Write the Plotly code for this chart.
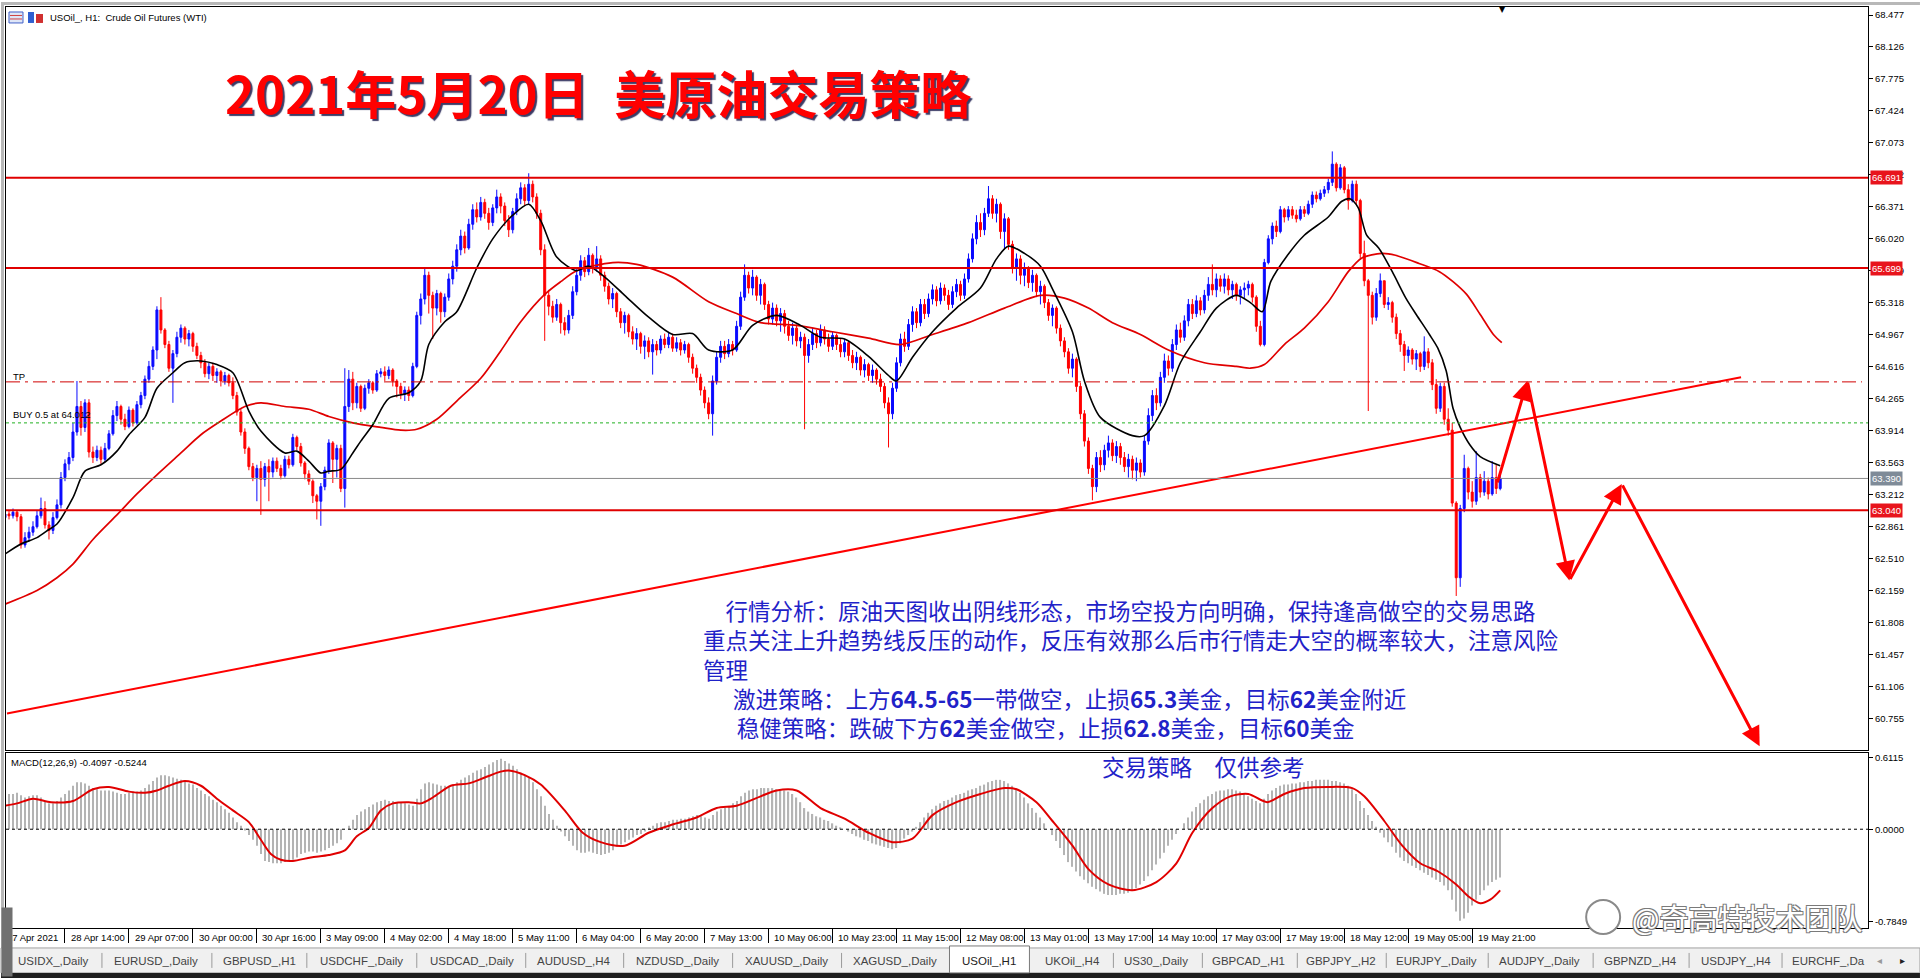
import plotly.graph_objects as go

# USOil_, H1 - one hourly bar per entry, open = close of the bar before
first_open = 62.96
closes = [
    63.00, 62.98, 63.02, 62.97, 62.66, 62.74, 62.80, 62.86, 62.98, 63.06, 62.88, 62.82, 62.96, 63.10, 63.40, 63.55,
    63.62, 63.90, 64.18, 63.95, 64.22, 63.68, 63.62, 63.70, 63.60, 63.72, 63.88, 64.08, 64.18, 64.04, 63.96, 64.14,
    64.00, 64.20, 64.30, 64.48, 64.62, 64.80, 65.24, 65.02, 64.86, 64.60, 64.76, 64.94, 65.04, 64.92, 64.98, 64.84,
    64.74, 64.66, 64.54, 64.62, 64.52, 64.56, 64.46, 64.52, 64.44, 64.30, 64.12, 63.90, 63.72, 63.52, 63.40, 63.50,
    63.38, 63.52, 63.46, 63.58, 63.50, 63.42, 63.60, 63.54, 63.84, 63.74, 63.56, 63.44, 63.36, 63.20, 63.14, 63.30,
    63.48, 63.78, 63.60, 63.72, 63.28, 64.18, 64.48, 64.22, 64.40, 64.16, 64.38, 64.44, 64.36, 64.54, 64.56, 64.52,
    64.58, 64.46, 64.40, 64.32, 64.36, 64.30, 64.62, 65.18, 65.36, 65.62, 65.40, 65.26, 65.42, 65.22, 65.38, 65.58,
    65.72, 65.90, 66.05, 65.92, 66.18, 66.34, 66.26, 66.42, 66.30, 66.20, 66.36, 66.48, 66.38, 66.22, 66.12, 66.32,
    66.46, 66.58, 66.44, 66.62, 66.48, 66.30, 65.90, 65.40, 65.28, 65.16, 65.30, 65.10, 65.02, 65.18, 65.44, 65.62,
    65.78, 65.66, 65.84, 65.70, 65.80, 65.62, 65.50, 65.36, 65.42, 65.22, 65.10, 65.18, 65.00, 64.92, 64.98, 64.84,
    64.90, 64.78, 64.86, 64.80, 64.92, 64.86, 64.94, 64.82, 64.88, 64.80, 64.86, 64.72, 64.60, 64.50, 64.36, 64.22,
    64.10, 64.46, 64.72, 64.84, 64.76, 64.86, 64.80, 65.06, 65.38, 65.62, 65.48, 65.60, 65.40, 65.52, 65.30, 65.14,
    65.26, 65.12, 65.20, 65.06, 64.96, 65.04, 64.90, 64.94, 64.74, 64.86, 64.98, 64.88, 65.02, 64.92, 64.84, 64.96,
    64.86, 64.78, 64.88, 64.74, 64.66, 64.72, 64.58, 64.64, 64.52, 64.58, 64.48, 64.40, 64.22, 64.10, 64.38, 64.66,
    64.92, 64.84, 65.08, 65.22, 65.10, 65.30, 65.20, 65.36, 65.46, 65.34, 65.48, 65.40, 65.30, 65.44, 65.52, 65.40,
    65.58, 65.80, 66.02, 66.20, 66.12, 66.30, 66.46, 66.30, 66.40, 66.10, 66.24, 65.96, 65.70, 65.80, 65.62, 65.70,
    65.54, 65.62, 65.44, 65.50, 65.32, 65.18, 65.26, 65.04, 64.90, 64.78, 64.60, 64.70, 64.40, 64.10, 63.80, 63.50,
    63.30, 63.62, 63.54, 63.70, 63.78, 63.64, 63.74, 63.62, 63.52, 63.60, 63.48, 63.56, 63.46, 63.80, 64.08, 64.30,
    64.22, 64.50, 64.68, 64.60, 64.86, 65.02, 64.94, 65.12, 65.30, 65.20, 65.34, 65.24, 65.40, 65.52, 65.46, 65.58,
    65.50, 65.58, 65.46, 65.52, 65.40, 65.46, 65.48, 65.52, 65.38, 65.06, 64.86, 65.76, 66.02, 66.16, 66.10, 66.34,
    66.26, 66.34, 66.28, 66.24, 66.34, 66.30, 66.40, 66.50, 66.46, 66.52, 66.56, 66.64, 66.84, 66.58, 66.80, 66.56,
    66.44, 66.62, 66.44, 65.86, 65.56, 65.40, 65.16, 65.42, 65.56, 65.30, 65.32, 65.16, 64.98, 64.86, 64.74, 64.80,
    64.70, 64.76, 64.62, 64.78, 64.66, 64.42, 64.16, 64.40, 64.04, 63.92, 63.12, 62.30, 63.06, 63.50, 63.24, 63.14,
    63.40, 63.24, 63.36, 63.22, 63.40, 63.28, 63.39,
]
highs = [
    63.05, 63.04, 63.06, 63.04, 63.00, 62.80, 62.86, 62.92, 63.04, 63.18, 63.14, 62.92, 63.02, 63.16, 63.46, 63.60,
    63.68, 64.00, 64.46, 64.24, 64.26, 64.26, 63.74, 63.75, 63.74, 63.78, 63.92, 64.14, 64.24, 64.20, 64.10, 64.18,
    64.16, 64.24, 64.34, 64.52, 64.68, 64.84, 65.28, 65.38, 65.04, 64.90, 64.80, 65.00, 65.08, 65.06, 65.02, 65.00,
    64.88, 64.78, 64.70, 64.66, 64.66, 64.60, 64.58, 64.56, 64.54, 64.50, 64.34, 64.16, 63.94, 63.74, 63.56, 63.54,
    63.58, 63.56, 63.60, 63.62, 63.62, 63.54, 63.64, 63.64, 63.88, 63.86, 63.78, 63.58, 63.48, 63.38, 63.22, 63.34,
    63.52, 63.82, 63.80, 63.76, 63.76, 64.60, 64.58, 64.56, 64.44, 64.42, 64.42, 64.48, 64.46, 64.58, 64.60, 64.62,
    64.62, 64.60, 64.48, 64.44, 64.40, 64.40, 64.66, 65.22, 65.42, 65.70, 65.66, 65.44, 65.46, 65.44, 65.42, 65.64,
    65.78, 65.96, 66.12, 66.10, 66.24, 66.40, 66.42, 66.48, 66.46, 66.36, 66.40, 66.56, 66.52, 66.42, 66.28, 66.36,
    66.52, 66.64, 66.62, 66.74, 66.66, 66.52, 66.34, 65.96, 65.46, 65.34, 65.36, 65.32, 65.16, 65.24, 65.50, 65.70,
    65.84, 65.82, 65.92, 65.86, 65.94, 65.84, 65.66, 65.54, 65.48, 65.44, 65.26, 65.22, 65.20, 65.06, 65.04, 65.00,
    64.96, 64.94, 64.92, 64.90, 64.96, 64.98, 65.00, 64.98, 64.94, 64.92, 64.90, 64.88, 64.76, 64.64, 64.54, 64.40,
    64.28, 64.52, 64.78, 64.90, 64.90, 64.92, 64.90, 65.12, 65.44, 65.74, 65.66, 65.68, 65.62, 65.58, 65.54, 65.34,
    65.32, 65.30, 65.26, 65.24, 65.12, 65.10, 65.08, 65.00, 64.98, 64.92, 65.04, 65.02, 65.08, 65.06, 64.98, 65.00,
    64.98, 64.92, 64.92, 64.90, 64.80, 64.78, 64.74, 64.70, 64.66, 64.64, 64.60, 64.54, 64.44, 64.28, 64.44, 64.72,
    64.98, 65.00, 65.14, 65.28, 65.26, 65.36, 65.36, 65.42, 65.52, 65.50, 65.54, 65.52, 65.46, 65.50, 65.58, 65.56,
    65.64, 65.86, 66.08, 66.28, 66.30, 66.36, 66.60, 66.50, 66.46, 66.42, 66.30, 66.26, 66.00, 65.86, 65.84, 65.76,
    65.72, 65.68, 65.64, 65.56, 65.52, 65.36, 65.30, 65.28, 65.08, 64.94, 64.82, 64.76, 64.72, 64.44, 64.14, 63.84,
    63.54, 63.68, 63.70, 63.76, 63.86, 63.82, 63.80, 63.78, 63.68, 63.66, 63.64, 63.62, 63.60, 63.86, 64.16, 64.36,
    64.38, 64.56, 64.76, 64.74, 64.92, 65.08, 65.10, 65.18, 65.36, 65.36, 65.40, 65.38, 65.46, 65.60, 65.74, 65.64,
    65.62, 65.64, 65.62, 65.56, 65.54, 65.50, 65.54, 65.56, 65.54, 65.40, 65.12, 65.80, 66.06, 66.20, 66.22, 66.38,
    66.36, 66.38, 66.38, 66.34, 66.38, 66.38, 66.44, 66.54, 66.54, 66.56, 66.60, 66.68, 66.98, 66.86, 66.84, 66.82,
    66.62, 66.66, 66.66, 66.46, 66.00, 65.58, 65.44, 65.48, 65.64, 65.56, 65.38, 65.34, 65.20, 65.02, 64.90, 64.84,
    64.82, 64.80, 64.78, 64.95, 64.82, 64.70, 64.48, 64.44, 64.44, 64.16, 64.00, 63.14, 63.10, 63.65, 63.52, 63.36,
    63.69, 63.44, 63.47, 63.40, 63.58, 63.54, 63.44,
]
lows = [
    62.93, 62.94, 62.95, 62.92, 62.62, 62.63, 62.70, 62.76, 62.84, 62.95, 62.84, 62.72, 62.78, 62.94, 63.06, 63.36,
    63.48, 63.58, 63.86, 63.86, 63.90, 63.62, 63.56, 63.58, 63.55, 63.57, 63.70, 63.86, 64.02, 63.98, 63.92, 63.94,
    63.96, 63.98, 64.16, 64.26, 64.44, 64.58, 64.70, 64.98, 64.82, 64.56, 64.22, 64.72, 64.88, 64.86, 64.84, 64.78,
    64.70, 64.60, 64.50, 64.48, 64.46, 64.44, 64.40, 64.42, 64.40, 64.26, 64.08, 63.86, 63.66, 63.48, 63.36, 63.14,
    62.99, 63.30, 63.14, 63.40, 63.46, 63.38, 63.40, 63.50, 63.52, 63.70, 63.52, 63.38, 63.32, 63.12, 62.94, 62.87,
    63.26, 63.44, 63.34, 63.40, 63.24, 63.07, 64.12, 64.14, 64.16, 64.12, 64.14, 64.32, 64.32, 64.34, 64.50, 64.46,
    64.48, 64.40, 64.28, 64.26, 64.24, 64.24, 64.28, 64.60, 65.08, 65.30, 65.20, 64.92, 65.18, 65.10, 65.16, 65.34,
    65.52, 65.66, 65.84, 65.86, 65.90, 66.12, 66.20, 66.22, 66.24, 66.12, 66.16, 66.30, 66.30, 66.16, 66.04, 66.08,
    66.28, 66.40, 66.38, 66.40, 66.42, 66.24, 65.84, 64.90, 65.18, 65.10, 65.12, 64.98, 64.96, 64.98, 65.14, 65.40,
    65.56, 65.60, 65.62, 65.64, 65.66, 65.56, 65.44, 65.30, 65.26, 65.16, 65.04, 64.98, 64.94, 64.86, 64.80, 64.76,
    64.70, 64.72, 64.53, 64.74, 64.76, 64.82, 64.82, 64.78, 64.78, 64.74, 64.76, 64.66, 64.54, 64.44, 64.30, 64.16,
    64.04, 63.86, 64.42, 64.66, 64.70, 64.72, 64.74, 64.78, 65.02, 65.34, 65.42, 65.40, 65.34, 65.30, 65.24, 65.08,
    65.08, 65.06, 65.00, 64.98, 64.90, 64.86, 64.84, 64.82, 63.93, 64.66, 64.80, 64.82, 64.84, 64.86, 64.78, 64.80,
    64.80, 64.72, 64.72, 64.68, 64.60, 64.58, 64.52, 64.50, 64.46, 64.44, 64.42, 64.34, 64.16, 63.73, 64.04, 64.34,
    64.62, 64.78, 64.80, 65.00, 65.04, 65.06, 65.14, 65.16, 65.30, 65.28, 65.30, 65.34, 65.24, 65.26, 65.38, 65.34,
    65.36, 65.54, 65.76, 65.96, 66.04, 66.06, 66.26, 66.24, 66.20, 66.02, 65.90, 65.90, 65.64, 65.56, 65.52, 65.50,
    65.48, 65.44, 65.38, 65.30, 65.26, 65.12, 65.06, 64.98, 64.84, 64.72, 64.54, 64.50, 64.34, 64.04, 63.74, 63.44,
    63.15, 63.24, 63.46, 63.48, 63.62, 63.58, 63.56, 63.54, 63.46, 63.40, 63.38, 63.36, 63.40, 63.42, 63.76, 64.02,
    64.14, 64.18, 64.44, 64.52, 64.56, 64.80, 64.88, 64.90, 65.06, 65.14, 65.16, 65.18, 65.20, 65.34, 65.40, 65.38,
    65.44, 65.42, 65.40, 65.36, 65.34, 65.30, 65.36, 65.40, 65.32, 65.00, 64.84, 64.84, 65.74, 65.96, 66.04, 66.08,
    66.20, 66.22, 66.24, 66.20, 66.22, 66.26, 66.28, 66.36, 66.42, 66.44, 66.48, 66.52, 66.60, 66.54, 66.56, 66.52,
    66.34, 66.42, 66.40, 65.80, 65.50, 64.13, 65.08, 65.12, 65.38, 65.26, 65.24, 65.10, 64.92, 64.78, 64.57, 64.66,
    64.64, 64.58, 64.56, 64.58, 64.60, 64.36, 64.10, 64.12, 63.98, 63.86, 63.08, 62.10, 62.20, 63.02, 63.16, 63.07,
    63.10, 63.18, 63.20, 63.16, 63.20, 63.22, 63.26,
]

# moving averages: bar index, price
ma_fast_idx = [0, 4, 8, 11, 13, 17, 20, 24, 28, 31, 35, 38, 42, 45, 49, 53, 57, 61, 64, 70, 73, 76, 79, 81, 84,
               87, 89, 92, 96, 101, 104, 106, 110, 113, 118, 122, 127, 131, 134, 138, 143, 146, 150, 155, 161,
               167, 172, 176, 182, 187, 193, 199, 204, 210, 216, 221, 223, 227, 232, 238, 244, 248, 251, 255,
               259, 262, 267, 270, 274, 282, 285, 290, 294, 299, 303, 308, 311.5, 314.5, 316.6, 320.8, 325,
               331, 334.3, 336.4, 338.5, 340.6, 343.6, 347, 350.4, 353, 356.3, 358.4, 360.5, 362.2, 364,
               366.4, 369, 374]
ma_fast_val = [62.56, 62.67, 62.74, 62.83, 62.89, 63.18, 63.47, 63.54, 63.69, 63.87, 64.06, 64.38, 64.55, 64.66,
               64.68, 64.64, 64.55, 64.13, 63.91, 63.67, 63.69, 63.58, 63.45, 63.47, 63.49, 63.67, 63.80, 63.98,
               64.27, 64.33, 64.46, 64.86, 65.11, 65.22, 65.70, 66.02, 66.28, 66.40, 66.22, 65.82, 65.67, 65.72,
               65.60, 65.40, 65.16, 64.97, 64.98, 64.80, 64.80, 65.07, 65.18, 65.07, 64.94, 64.92, 64.73, 64.52,
               64.46, 64.72, 65.00, 65.26, 65.48, 65.80, 65.94, 65.86, 65.72, 65.47, 65.00, 64.46, 64.06, 63.86,
               63.86, 64.19, 64.66, 65.00, 65.26, 65.40, 65.32, 65.22, 65.55, 65.84, 66.06, 66.26, 66.43, 66.46,
               66.36, 66.06, 65.92, 65.66, 65.37, 65.19, 64.97, 64.82, 64.57, 64.16, 63.95, 63.76, 63.63, 63.53]
ma_slow_idx = [0, 8, 13, 17, 22, 28, 33, 38, 44, 49, 54, 60, 64, 70, 76, 81, 87, 94, 99, 103, 108, 113, 119, 124,
               129, 135, 139, 143, 152, 158, 167, 176, 183, 189, 198, 207, 216, 224, 232, 241, 250, 259, 265,
               271, 277, 284, 291, 300, 308, 311.5, 315, 320, 325, 331, 336, 339.4, 344.4, 347.8, 353.7, 358.8,
               362.2, 365.6, 369, 372.3, 374.4]
ma_slow_val = [62.01, 62.16, 62.30, 62.45, 62.72, 62.99, 63.22, 63.43, 63.67, 63.87, 64.02, 64.18, 64.22, 64.18,
               64.15, 64.07, 64.00, 63.95, 63.92, 63.93, 64.04, 64.24, 64.49, 64.79, 65.11, 65.41, 65.55, 65.67,
               65.76, 65.74, 65.60, 65.33, 65.20, 65.10, 65.07, 65.00, 64.93, 64.86, 64.97, 65.10, 65.26, 65.40,
               65.37, 65.26, 65.10, 64.97, 64.80, 64.66, 64.62, 64.60, 64.64, 64.86, 65.04, 65.33, 65.66, 65.81,
               65.86, 65.84, 65.75, 65.66, 65.55, 65.41, 65.19, 64.97, 64.88]

# MACD(12,26,9): main histogram per bar, signal line
macd_hist = [
    0.29, 0.30, 0.30, 0.31, 0.29, 0.27, 0.28, 0.29, 0.29, 0.27, 0.24, 0.22, 0.22, 0.24, 0.27, 0.30,
    0.33, 0.37, 0.40, 0.40, 0.39, 0.37, 0.35, 0.34, 0.33, 0.33, 0.33, 0.32, 0.31, 0.30, 0.30, 0.31,
    0.32, 0.32, 0.33, 0.35, 0.38, 0.41, 0.44, 0.46, 0.46, 0.45, 0.44, 0.43, 0.42, 0.41, 0.39, 0.38,
    0.35, 0.33, 0.30, 0.28, 0.25, 0.23, 0.20, 0.17, 0.14, 0.10, 0.06, 0.03, -0.01, -0.05, -0.09, -0.14,
    -0.21, -0.27, -0.28, -0.29, -0.29, -0.29, -0.28, -0.27, -0.26, -0.24, -0.21, -0.20, -0.19, -0.19, -0.20, -0.19,
    -0.18, -0.16, -0.14, -0.12, -0.09, 0.00, 0.03, 0.08, 0.12, 0.15, 0.17, 0.19, 0.21, 0.23, 0.24, 0.25,
    0.24, 0.24, 0.23, 0.23, 0.22, 0.21, 0.20, 0.26, 0.34, 0.39, 0.40, 0.39, 0.38, 0.37, 0.37, 0.37,
    0.38, 0.40, 0.42, 0.44, 0.46, 0.48, 0.50, 0.51, 0.53, 0.55, 0.57, 0.59, 0.60, 0.58, 0.56, 0.54,
    0.51, 0.48, 0.46, 0.44, 0.40, 0.34, 0.28, 0.20, 0.13, 0.08, 0.03, -0.02, -0.06, -0.10, -0.14, -0.18,
    -0.20, -0.20, -0.19, -0.20, -0.21, -0.22, -0.21, -0.20, -0.18, -0.15, -0.13, -0.11, -0.09, -0.07, -0.05, -0.04,
    -0.02, 0.01, 0.03, 0.05, 0.06, 0.06, 0.07, 0.08, 0.08, 0.09, 0.09, 0.10, 0.11, 0.12, 0.11, 0.10,
    0.09, 0.12, 0.15, 0.17, 0.18, 0.19, 0.22, 0.24, 0.28, 0.31, 0.33, 0.34, 0.34, 0.35, 0.35, 0.35,
    0.35, 0.34, 0.33, 0.33, 0.32, 0.30, 0.27, 0.23, 0.18, 0.15, 0.13, 0.11, 0.10, 0.08, 0.07, 0.05,
    0.03, 0.01, 0.00, -0.02, -0.04, -0.06, -0.07, -0.09, -0.10, -0.12, -0.13, -0.14, -0.15, -0.16, -0.17, -0.16,
    -0.12, -0.08, -0.05, -0.02, 0.02, 0.06, 0.10, 0.14, 0.17, 0.20, 0.22, 0.24, 0.25, 0.27, 0.29, 0.30,
    0.31, 0.33, 0.34, 0.35, 0.37, 0.38, 0.40, 0.41, 0.42, 0.42, 0.41, 0.39, 0.37, 0.35, 0.31, 0.27,
    0.22, 0.18, 0.14, 0.10, 0.05, 0.00, -0.05, -0.10, -0.16, -0.22, -0.28, -0.32, -0.36, -0.40, -0.43, -0.46,
    -0.49, -0.51, -0.53, -0.55, -0.56, -0.56, -0.56, -0.55, -0.55, -0.54, -0.52, -0.50, -0.47, -0.44, -0.40, -0.35,
    -0.30, -0.25, -0.20, -0.14, -0.09, -0.04, 0.00, 0.05, 0.10, 0.15, 0.19, 0.22, 0.25, 0.28, 0.30, 0.32,
    0.33, 0.33, 0.34, 0.34, 0.33, 0.32, 0.30, 0.28, 0.26, 0.24, 0.22, 0.26, 0.30, 0.33, 0.35, 0.37,
    0.38, 0.38, 0.39, 0.39, 0.40, 0.40, 0.41, 0.41, 0.42, 0.42, 0.42, 0.42, 0.41, 0.41, 0.40, 0.39,
    0.37, 0.34, 0.30, 0.24, 0.18, 0.12, 0.07, 0.02, -0.03, -0.07, -0.11, -0.15, -0.20, -0.24, -0.27, -0.29,
    -0.31, -0.33, -0.35, -0.37, -0.39, -0.41, -0.43, -0.45, -0.48, -0.52, -0.60, -0.70, -0.78, -0.76, -0.71, -0.65,
    -0.60, -0.56, -0.52, -0.48, -0.45, -0.43, -0.41,
]
signal_idx = [0, 3, 7, 11.5, 17, 22, 26, 31, 35, 38, 41, 45, 49, 53, 57, 61, 64, 66.5, 69, 72, 76.5, 81, 85, 88,
              91, 94, 97, 101, 104, 107, 111.5, 116, 120, 124, 126, 130, 134, 140, 144.5, 149, 155, 161, 167,
              173, 178, 183, 189, 193, 198, 204, 210, 216, 222, 227, 232, 238, 244, 250, 253, 258, 262, 267,
              271, 276, 282, 288, 293, 297, 302, 306.5, 311, 315.7, 320, 325, 331, 337, 340, 345, 349.5, 354,
              358.5, 363, 366, 369, 371.5, 374]
signal_val = [0.20, 0.22, 0.26, 0.23, 0.24, 0.34, 0.36, 0.32, 0.31, 0.33, 0.37, 0.41, 0.37, 0.26, 0.16, 0.06,
              -0.09, -0.21, -0.26, -0.27, -0.24, -0.22, -0.18, -0.06, 0.01, 0.16, 0.22, 0.23, 0.22, 0.27, 0.37,
              0.39, 0.44, 0.49, 0.50, 0.46, 0.38, 0.16, -0.03, -0.11, -0.14, -0.03, 0.04, 0.10, 0.18, 0.20, 0.28,
              0.33, 0.33, 0.18, 0.09, -0.03, -0.11, -0.08, 0.12, 0.23, 0.30, 0.35, 0.34, 0.23, 0.07, -0.14, -0.34,
              -0.47, -0.52, -0.45, -0.29, -0.03, 0.18, 0.28, 0.30, 0.23, 0.30, 0.35, 0.36, 0.35, 0.28, 0.07,
              -0.14, -0.29, -0.36, -0.47, -0.57, -0.63, -0.60, -0.52]

# drawn objects
solid_levels = [66.691, 65.699, 63.040]
tp_level = 64.45
buy_level = 64.00
bid_level = 63.39
trend_idx = [0.5, 434.25]
trend_val = [60.81, 64.50]
path_idx = [373.2, 380.8, 391.3, 404.4, 438.9]
path_val = [63.33, 64.46, 62.27, 63.33, 60.45]

price_ticks = [68.477, 68.126, 67.775, 67.424, 67.073, 66.722, 66.371, 66.020, 65.669, 65.318, 64.967, 64.616,
               64.265, 63.914, 63.563, 63.212, 62.861, 62.510, 62.159, 61.808, 61.457, 61.106, 60.755]
macd_ticks = [0.6115, 0.0, -0.7849]
time_tick_idx = [15, 31, 47, 63, 79, 95, 111, 127, 143, 159, 175, 191, 207, 223, 239, 255, 271, 287, 303,
                 319, 335, 351, 367]
time_tick_text = ["28 Apr 14:00", "29 Apr 07:00", "30 Apr 00:00", "30 Apr 16:00", "3 May 09:00", "4 May 02:00",
                  "4 May 18:00", "5 May 11:00", "6 May 04:00", "6 May 20:00", "7 May 13:00", "10 May 06:00",
                  "10 May 23:00", "11 May 15:00", "12 May 08:00", "13 May 01:00", "13 May 17:00", "14 May 10:00",
                  "17 May 03:00", "17 May 19:00", "18 May 12:00", "19 May 05:00", "19 May 21:00"]
tab_names = ["USIDX_,Daily", "EURUSD_,Daily", "GBPUSD_,H1", "USDCHF_,Daily", "USDCAD_,Daily", "AUDUSD_,H4",
             "NZDUSD_,Daily", "XAUUSD_,Daily", "XAGUSD_,Daily", "USOil_,H1", "UKOil_,H4", "US30_,Daily",
             "GBPCAD_,H1", "GBPJPY_,H2", "EURJPY_,Daily", "AUDJPY_,Daily", "GBPNZD_,H4", "USDJPY_,H4",
             "EURCHF_,Da"]
tab_centers = [53, 155, 259, 361, 471, 573, 677, 786, 894, 989, 1072, 1156, 1248, 1341, 1436, 1539, 1640, 1736, 1828]
tab_seps = [101, 211, 306, 416, 525, 623, 732, 841, 1113, 1202, 1297, 1386, 1488, 1593, 1689, 1782]

# ---- page geometry (pixels)
W, H = 1920, 978
ML, MR, MT, MB = 5, 52, 5, 50
PW, PH = W - ML - MR, H - MT - MB


def px(x):
    return (x - ML) / PW


def py(y):
    return 1 - (y - MT) / PH


n = len(closes)
idx = list(range(n))
opens = [first_open] + closes[:-1]
highs = [max(h, o, c) for h, o, c in zip(highs, opens, closes)]
lows = [min(l, o, c) for l, o, c in zip(lows, opens, closes)]

RED = "#ff0000"
BLUE = "#0a0aff"
SMALL = dict(family="Liberation Sans", size=9.5, color="black")

fig = go.Figure()

fig.add_trace(go.Candlestick(
    x=idx, open=opens, high=highs, low=lows, close=closes,
    increasing=dict(line=dict(color=BLUE, width=1), fillcolor=BLUE),
    decreasing=dict(line=dict(color=RED, width=1), fillcolor=RED),
    xaxis="x", yaxis="y", hoverinfo="skip"))
fig.add_trace(go.Scatter(x=ma_slow_idx, y=ma_slow_val, mode="lines",
                         line=dict(color="#e00000", width=1.7, shape="spline", smoothing=0.8),
                         xaxis="x", yaxis="y", hoverinfo="skip"))
fig.add_trace(go.Scatter(x=ma_fast_idx, y=ma_fast_val, mode="lines",
                         line=dict(color="black", width=1.6, shape="spline", smoothing=0.8),
                         xaxis="x", yaxis="y", hoverinfo="skip"))
fig.add_trace(go.Scatter(x=trend_idx, y=trend_val, mode="lines", line=dict(color=RED, width=2),
                         xaxis="x", yaxis="y", hoverinfo="skip"))

fig.add_trace(go.Bar(x=idx, y=macd_hist, width=0.3, marker=dict(color="#b4b4b4", line=dict(width=0)),
                     xaxis="x2", yaxis="y2", hoverinfo="skip"))
fig.add_trace(go.Scatter(x=signal_idx, y=signal_val, mode="lines",
                         line=dict(color="#e00000", width=2, shape="spline", smoothing=0.8),
                         xaxis="x2", yaxis="y2", hoverinfo="skip"))

shapes = []
for lv in solid_levels:
    shapes.append(dict(type="line", xref="paper", yref="y", x0=0, x1=1, y0=lv, y1=lv,
                       line=dict(color="#e00000", width=2)))
shapes.append(dict(type="line", xref="paper", yref="y", x0=0, x1=px(1862), y0=tp_level, y1=tp_level,
                   line=dict(color="#d00000", width=1, dash="14px,5px,3px,5px")))
shapes.append(dict(type="line", xref="paper", yref="y", x0=0, x1=1, y0=buy_level, y1=buy_level,
                   line=dict(color="#20b020", width=1, dash="3px,3px")))
shapes.append(dict(type="line", xref="paper", yref="y", x0=0, x1=1, y0=bid_level, y1=bid_level,
                   line=dict(color="#8a8a8a", width=1)))
shapes.append(dict(type="line", xref="paper", yref="y2", x0=0, x1=1, y0=0, y1=0,
                   line=dict(color="black", width=1, dash="3px,3px")))
# window chrome
shapes.append(dict(type="rect", xref="paper", yref="paper", x0=px(0), x1=px(3), y0=py(948), y1=py(0),
                   fillcolor="#b8b8b8", line=dict(width=0), layer="above"))
shapes.append(dict(type="rect", xref="paper", yref="paper", x0=px(0), x1=px(1920), y0=py(3), y1=py(0),
                   fillcolor="#b8b8b8", line=dict(width=0), layer="above"))
shapes.append(dict(type="rect", xref="paper", yref="paper", x0=px(0), x1=px(1920), y0=py(973), y1=py(948),
                   fillcolor="#f0f0f0", line=dict(color="#a0a0a0", width=1), layer="above"))
shapes.append(dict(type="rect", xref="paper", yref="paper", x0=px(0), x1=px(1920), y0=py(978), y1=py(973),
                   fillcolor="#1e1e1e", line=dict(width=0), layer="above"))
shapes.append(dict(type="rect", xref="paper", yref="paper", x0=px(949), x1=px(1029), y0=py(973), y1=py(946),
                   fillcolor="white", line=dict(color="#7a7a7a", width=1), layer="above"))
for s in tab_seps:
    shapes.append(dict(type="line", xref="paper", yref="paper", x0=px(s), x1=px(s), y0=py(968), y1=py(953),
                       line=dict(color="#9a9a9a", width=1), layer="above"))
# chart-window icons
shapes.append(dict(type="rect", xref="paper", yref="paper", x0=px(8), x1=px(22), y0=py(21), y1=py(10),
                   fillcolor="#dfe6f7", line=dict(color="#4060c8", width=1), layer="above"))
for yy in (13.5, 17):
    shapes.append(dict(type="line", xref="paper", yref="paper", x0=px(9), x1=px(21), y0=py(yy), y1=py(yy),
                       line=dict(color="#d04040", width=1), layer="above"))
shapes.append(dict(type="rect", xref="paper", yref="paper", x0=px(27), x1=px(33), y0=py(21), y1=py(10),
                   fillcolor="#2f5fd0", line=dict(width=0), layer="above"))
shapes.append(dict(type="rect", xref="paper", yref="paper", x0=px(35), x1=px(42), y0=py(21), y1=py(12),
                   fillcolor="#d03030", line=dict(width=0), layer="above"))
# watermark logo
shapes.append(dict(type="circle", xref="paper", yref="paper", x0=px(1586), x1=px(1620), y0=py(934), y1=py(900),
                   fillcolor="white", line=dict(color="#8a8a8a", width=2), layer="above"))

ann = []
# path arrows
for k in range(len(path_idx) - 1):
    ann.append(dict(xref="x", yref="y", axref="x", ayref="y", x=path_idx[k + 1], y=path_val[k + 1],
                    ax=path_idx[k], ay=path_val[k], text="", showarrow=True, arrowhead=2, arrowsize=1.3,
                    arrowwidth=3, arrowcolor=RED, standoff=0, startstandoff=0))

# price labels for levels
for lv in solid_levels:
    ann.append(dict(xref="paper", yref="y", x=px(1870), y=lv, xanchor="left", yanchor="middle",
                    text=f"{lv:.3f}", showarrow=False, bgcolor="#e8141c", borderpad=1,
                    font=dict(family="Liberation Sans", size=9.5, color="white")))
ann.append(dict(xref="paper", yref="y", x=px(1870), y=bid_level, xanchor="left", yanchor="middle",
                text=f"{bid_level:.3f}", showarrow=False, bgcolor="#7f8b98", borderpad=1,
                font=dict(family="Liberation Sans", size=9.5, color="white")))

# small chart texts
ann.append(dict(xref="paper", yref="paper", x=px(47), y=py(16), xanchor="left", yanchor="middle",
                text="USOil_, H1:  Crude Oil Futures (WTI)", showarrow=False, font=SMALL))
ann.append(dict(xref="paper", yref="paper", x=px(10), y=py(375), xanchor="left", yanchor="middle",
                text="TP", showarrow=False, font=SMALL))
ann.append(dict(xref="paper", yref="paper", x=px(10), y=py(413), xanchor="left", yanchor="middle",
                text="BUY 0.5 at 64.012", showarrow=False, font=SMALL))
ann.append(dict(xref="paper", yref="paper", x=px(8), y=py(762), xanchor="left", yanchor="middle",
                text="MACD(12,26,9) -0.4097 -0.5244", showarrow=False, font=SMALL))
ann.append(dict(xref="paper", yref="paper", x=px(1502), y=py(8), xanchor="center", yanchor="middle",
                text="▼", showarrow=False, font=dict(family="DejaVu Sans", size=8, color="black")))

# time axis labels
ann.append(dict(xref="paper", yref="paper", x=px(4), y=py(938), xanchor="left", yanchor="middle",
                text="27 Apr 2021", showarrow=False, font=SMALL))
for t, s in zip(time_tick_idx, time_tick_text):
    ann.append(dict(xref="x2", yref="paper", x=t + 0.9, y=py(938), xanchor="left", yanchor="middle",
                    text=s, showarrow=False, font=SMALL))
ann.append(dict(xref="paper", yref="paper", x=px(0), y=py(942), xanchor="left", yanchor="middle",
                text=" ", width=8, height=66, bgcolor="#707070", showarrow=False, font=SMALL))

# title
ann.append(dict(xref="paper", yref="paper", x=px(222), y=py(90), xanchor="left", yanchor="middle",
                text="<b>2021年5月20日\u2002美原油交易策略</b>", showarrow=False,
                font=dict(family="Noto Sans CJK SC", size=51, color="#ff0000",
                          shadow="2px 2px 1px #3c3c66")))

# analysis text, one block so the lines keep their own spacing
BLUE_TXT = dict(family="Noto Sans CJK SC", size=22.5, color="#1f22c8")
block = "<br>".join([
    "\u3000行情分析：原油天图收出阴线形态，市场空投方向明确，保持逢高做空的交易思路",
    "重点关注上升趋势线反压的动作，反压有效那么后市行情走大空的概率较大，注意风险",
    "管理",
    "\u3000\u2004激进策略：上方<b>64.5-65</b>一带做空，止损<b>65.3</b>美金，目标<b>62</b>美金附近",
    "\u3000\u2002稳健策略：跌破下方<b>62</b>美金做空，止损<b>62.8</b>美金，目标<b>60</b>美金",
])
ann.append(dict(xref="paper", yref="paper", x=px(700), y=py(668), xanchor="left", yanchor="middle",
                align="left", text=block, showarrow=False, font=BLUE_TXT))
ann.append(dict(xref="paper", yref="paper", x=px(1100), y=py(766), xanchor="left", yanchor="middle",
                text="交易策略\u3000仅供参考", showarrow=False, font=BLUE_TXT))

# watermark, kept just left of the MACD scale labels
ann.append(dict(xref="paper", yref="paper", x=px(1630), y=py(917), xanchor="left", yanchor="middle",
                text="@奇高特技术团队", showarrow=False,
                font=dict(family="Noto Sans CJK SC", size=29, color="white",
                          shadow="-1px -1px 0 #7a7a7a, 1px -1px 0 #7a7a7a, -1px 1px 0 #7a7a7a, 1px 1px 0 #7a7a7a")))

# tab bar
for name, cx in zip(tab_names, tab_centers):
    ann.append(dict(xref="paper", yref="paper", x=px(cx), y=py(961), xanchor="center", yanchor="middle",
                    text=name, showarrow=False,
                    font=dict(family="Liberation Sans", size=11.5, color="#222" if name == "USOil_,H1" else "#444")))
ann.append(dict(xref="paper", yref="paper", x=px(1880), y=py(961), xanchor="center", yanchor="middle",
                text="◂", showarrow=False, font=dict(family="DejaVu Sans", size=10, color="#999")))
ann.append(dict(xref="paper", yref="paper", x=px(1903), y=py(961), xanchor="center", yanchor="middle",
                text="▸", showarrow=False, font=dict(family="DejaVu Sans", size=10, color="#222")))

frame = dict(showline=True, linecolor="black", linewidth=1, mirror=True, showgrid=False, zeroline=False)

fig.update_layout(
    width=W, height=H, margin=dict(l=ML, r=MR, t=MT, b=MB),
    paper_bgcolor="white", plot_bgcolor="white", showlegend=False, hovermode=False,
    xaxis=dict(domain=[0, 1], anchor="y", range=[0.25, 466], showticklabels=False, ticks="",
               rangeslider=dict(visible=False), **frame),
    yaxis=dict(domain=[(928 - 750) / PH, 1], anchor="x", range=[60.405, 68.565], side="right",
               tickvals=price_ticks, ticktext=[f"{v:.3f}" for v in price_ticks], ticks="outside",
               ticklen=4, tickcolor="black", tickfont=SMALL, **frame),
    xaxis2=dict(domain=[0, 1], anchor="y2", matches="x", range=[0.25, 466], tickvals=time_tick_idx,
                ticks="outside", ticklen=14, tickcolor="black", showticklabels=False, **frame),
    yaxis2=dict(domain=[0, (928 - 753) / PH], anchor="x2", range=[-0.8408, 0.6455], side="right",
                tickvals=macd_ticks, ticktext=["0.6115", "0.0000", "-0.7849"], ticks="outside",
                ticklen=4, tickcolor="black", tickfont=SMALL, **frame),
    shapes=shapes, annotations=ann,
)

fig.write_html("out.html", config={"displayModeBar": False},
               post_script="document.body.style.margin='0';document.body.style.overflow='hidden';")
